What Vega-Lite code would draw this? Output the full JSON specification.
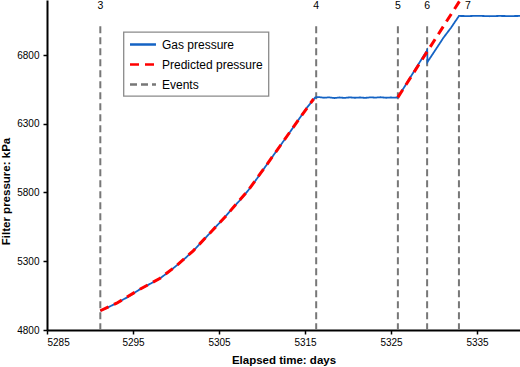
{
  "$schema": "https://vega.github.io/schema/vega-lite/v6.json",
  "width": 473,
  "height": 330,
  "autosize": {"type": "none"},
  "padding": {"left": 47, "top": 0, "right": 0, "bottom": 37},
  "background": "white",
  "config": {
    "view": {"stroke": null},
    "font": "Liberation Sans",
    "axis": {
      "grid": false,
      "domainColor": "black",
      "domainWidth": 2,
      "tickColor": "black",
      "tickWidth": 1.5,
      "tickSize": 4,
      "labelColor": "black",
      "labelFont": "Liberation Sans",
      "labelFontSize": 10,
      "titleFont": "Liberation Sans",
      "titleFontSize": 11.5,
      "titleFontWeight": "bold",
      "titleColor": "black"
    },
    "legend": {
      "orient": "none",
      "legendX": 76.5,
      "legendY": 32,
      "strokeColor": "#8a8a8a",
      "strokeWidth": 1.3,
      "fillColor": "white",
      "padding": 5,
      "labelFont": "Liberation Sans",
      "labelFontSize": 12,
      "labelColor": "black",
      "labelOffset": 18.5,
      "symbolType": "M-1,0H3.33",
      "symbolSize": 144,
      "symbolStrokeWidth": 2.5,
      "rowPadding": 6
    }
  },
  "datasets": {
    "gas": [
      {"day": 5291.2, "kpa": 4940}, {"day": 5292.0, "kpa": 4962}, {"day": 5293.1, "kpa": 4995},
      {"day": 5294.4, "kpa": 5040}, {"day": 5295.8, "kpa": 5096}, {"day": 5297.0, "kpa": 5136},
      {"day": 5298.1, "kpa": 5174}, {"day": 5299.0, "kpa": 5215}, {"day": 5299.9, "kpa": 5260},
      {"day": 5300.9, "kpa": 5312}, {"day": 5302.0, "kpa": 5376}, {"day": 5303.0, "kpa": 5440},
      {"day": 5304.2, "kpa": 5522}, {"day": 5305.0, "kpa": 5575}, {"day": 5305.7, "kpa": 5622},
      {"day": 5306.5, "kpa": 5680}, {"day": 5307.5, "kpa": 5748}, {"day": 5308.4, "kpa": 5816},
      {"day": 5309.4, "kpa": 5900}, {"day": 5310.3, "kpa": 5980}, {"day": 5311.3, "kpa": 6068},
      {"day": 5312.3, "kpa": 6156}, {"day": 5313.3, "kpa": 6244}, {"day": 5314.2, "kpa": 6325},
      {"day": 5315.2, "kpa": 6415}, {"day": 5316.2, "kpa": 6492},
      {"day": 5316.6, "kpa": 6494}, {"day": 5317.2, "kpa": 6489}, {"day": 5317.8, "kpa": 6492},
      {"day": 5318.4, "kpa": 6487}, {"day": 5319.0, "kpa": 6491}, {"day": 5319.6, "kpa": 6488},
      {"day": 5320.2, "kpa": 6492}, {"day": 5320.8, "kpa": 6489}, {"day": 5321.4, "kpa": 6491},
      {"day": 5322.0, "kpa": 6488}, {"day": 5322.6, "kpa": 6492}, {"day": 5323.2, "kpa": 6490},
      {"day": 5323.8, "kpa": 6493}, {"day": 5324.4, "kpa": 6489}, {"day": 5325.0, "kpa": 6491},
      {"day": 5325.5, "kpa": 6490}, {"day": 5325.8, "kpa": 6492},
      {"day": 5326.7, "kpa": 6582}, {"day": 5327.6, "kpa": 6673}, {"day": 5328.4, "kpa": 6754},
      {"day": 5329.2, "kpa": 6834}, {"day": 5329.25, "kpa": 6750},
      {"day": 5330.2, "kpa": 6840}, {"day": 5331.1, "kpa": 6926}, {"day": 5332.0, "kpa": 7000},
      {"day": 5332.9, "kpa": 7084},
      {"day": 5334.0, "kpa": 7083}, {"day": 5335.2, "kpa": 7085}, {"day": 5336.4, "kpa": 7082},
      {"day": 5337.6, "kpa": 7084}, {"day": 5338.8, "kpa": 7083}, {"day": 5340.0, "kpa": 7084}
    ],
    "predicted": [
      {"seg": "a", "day": 5291.2, "kpa": 4940}, {"seg": "a", "day": 5293.1, "kpa": 4995},
      {"seg": "a", "day": 5295.8, "kpa": 5096}, {"seg": "a", "day": 5298.1, "kpa": 5174},
      {"seg": "a", "day": 5299.9, "kpa": 5260}, {"seg": "a", "day": 5302.0, "kpa": 5376},
      {"seg": "a", "day": 5304.2, "kpa": 5522}, {"seg": "a", "day": 5305.7, "kpa": 5622},
      {"seg": "a", "day": 5308.4, "kpa": 5816}, {"seg": "a", "day": 5310.3, "kpa": 5980},
      {"seg": "a", "day": 5312.3, "kpa": 6156}, {"seg": "a", "day": 5314.2, "kpa": 6325},
      {"seg": "a", "day": 5316.0, "kpa": 6480},
      {"seg": "b", "day": 5325.8, "kpa": 6492}, {"seg": "b", "day": 5333.0, "kpa": 7195}
    ],
    "events": [
      {"label": "3", "day": 5291.2},
      {"label": "4", "day": 5316.3},
      {"label": "5", "day": 5325.8},
      {"label": "6", "day": 5329.2},
      {"label": "7", "day": 5332.9}
    ]
  },
  "encoding": {
    "x": {
      "field": "day",
      "type": "quantitative",
      "title": "Elapsed time: days",
      "scale": {"domain": [5285, 5340], "nice": false, "zero": false},
      "axis": {
        "values": [5285, 5295, 5305, 5315, 5325, 5335],
        "format": "d",
        "labelPadding": 3,
        "titleBaseline": "alphabetic",
        "titleY": 33.5
      }
    }
  },
  "layer": [
    {
      "data": {"name": "events"},
      "transform": [{"calculate": "'Events'", "as": "series"}],
      "mark": {"type": "rule", "strokeWidth": 2},
      "encoding": {
        "y": {"datum": 7010, "type": "quantitative"},
        "y2": {"datum": 4800},
        "color": {"field": "series", "type": "nominal"},
        "strokeDash": {"field": "series", "type": "nominal"}
      }
    },
    {
      "data": {"name": "gas"},
      "transform": [{"calculate": "'Gas pressure'", "as": "series"}],
      "mark": {"type": "line", "strokeWidth": 1.8, "clip": true},
      "encoding": {
        "y": {
          "field": "kpa",
          "type": "quantitative",
          "title": "Filter pressure: kPa",
          "scale": {"domain": [4800, 7200], "nice": false, "zero": false},
          "axis": {
            "values": [4800, 5300, 5800, 6300, 6800],
            "format": "d",
            "labelPadding": 4,
            "titleBaseline": "alphabetic",
            "titleX": -37.5,
            "titleY": 191
          }
        },
        "color": {
          "field": "series",
          "type": "nominal",
          "scale": {
            "domain": ["Gas pressure", "Predicted pressure", "Events"],
            "range": ["#1463c4", "#ff0000", "#777777"]
          },
          "legend": {"title": null}
        },
        "strokeDash": {
          "field": "series",
          "type": "nominal",
          "scale": {
            "domain": ["Gas pressure", "Predicted pressure", "Events"],
            "range": [[1, 0], [9, 6], [7, 4]]
          },
          "legend": {"title": null}
        }
      }
    },
    {
      "data": {"name": "predicted"},
      "transform": [{"calculate": "'Predicted pressure'", "as": "series"}],
      "mark": {"type": "line", "strokeWidth": 3, "clip": true},
      "encoding": {
        "y": {"field": "kpa", "type": "quantitative"},
        "detail": {"field": "seg"},
        "color": {"field": "series", "type": "nominal"},
        "strokeDash": {"field": "series", "type": "nominal"}
      }
    },
    {
      "data": {"name": "events"},
      "transform": [{"filter": "datum.label != '7'"}],
      "mark": {"type": "text", "fontSize": 10.5, "color": "black", "baseline": "middle"},
      "encoding": {
        "y": {"datum": 7155, "type": "quantitative"},
        "text": {"field": "label"}
      }
    },
    {
      "data": {"name": "events"},
      "transform": [{"filter": "datum.label == '7'"}],
      "mark": {"type": "text", "fontSize": 10.5, "color": "black", "baseline": "middle", "dx": 9},
      "encoding": {
        "y": {"datum": 7155, "type": "quantitative"},
        "text": {"field": "label"}
      }
    }
  ]
}
